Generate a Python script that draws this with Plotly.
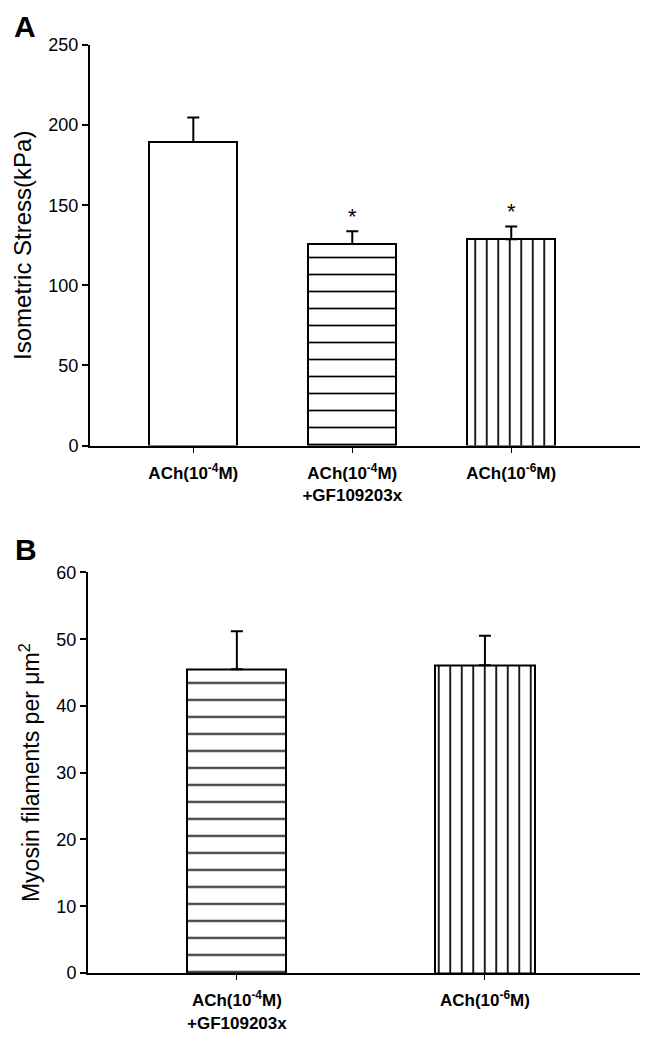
import plotly.graph_objects as go
from plotly.subplots import make_subplots

# Panel A data
cats_a = ["<b>ACh(10<sup>-4</sup>M)</b>", "<b>ACh(10<sup>-4</sup>M)<br>+GF109203x</b>", "<b>ACh(10<sup>-6</sup>M)</b>"]
stress = [189.5, 125.8, 128.7]
stress_err = [15.2, 8.0, 8.0]
stress_sig = ["", "*", "*"]

# Panel B data
cats_b = ["<b>ACh(10<sup>-4</sup>M)<br>+GF109203x</b>", "<b>ACh(10<sup>-6</sup>M)</b>"]
myosin = [45.5, 46.1]
myosin_err = [5.7, 4.4]

patterns_a = ["", "-", "|"]
patterns_b = ["-", "|"]

fig = make_subplots(rows=2, cols=1)

FONT = "Liberation Sans, Arial, sans-serif"

def add_bars(xs, ys, errs, pats, row, width):
    for x, y, e, p in zip(xs, ys, errs, pats):
        pat = dict(shape=p, fgcolor="black", bgcolor="white", fillmode="replace")
        if p == "-":
            pat.update(size=17, solidity=0.1)
        elif p == "|":
            pat.update(size=11.5, solidity=0.15)
        fig.add_trace(go.Bar(
            x=[x], y=[y], width=width,
            marker=dict(color="white", line=dict(color="black", width=2), pattern=pat),
            error_y=dict(type="data", array=[e], arrayminus=[0], symmetric=False,
                         color="black", thickness=2, width=6),
            showlegend=False), row=row, col=1)

add_bars(list(range(len(cats_a))), stress, stress_err, patterns_a, 1, 0.555)
add_bars(list(range(len(cats_b))), myosin, myosin_err, patterns_b, 2, 0.40)

for i, s in enumerate(stress_sig):
    if s:
        fig.add_annotation(x=i, y=stress[i] + stress_err[i], text=s, showarrow=False,
                           yshift=15, font=dict(size=22, color="black", family=FONT),
                           xref="x", yref="y")

W, H = 646, 1037
L, R, T, B = 80, 14, 37, 64
pw, ph = W - L - R, H - T - B

def px_x(p):
    return (p - L) / pw

def px_y(p):
    return (H - B - p) / ph

fig.add_annotation(x=px_x(4), y=px_y(0), xref="paper", yref="paper", text="<b>A</b>",
                   showarrow=False, font=dict(size=30, color="black", family=FONT),
                   xanchor="left", yanchor="top")
fig.add_annotation(x=px_x(5), y=px_y(546), xref="paper", yref="paper", text="<b>B</b>",
                   showarrow=False, font=dict(size=30, color="black", family=FONT),
                   xanchor="left", yanchor="middle")

xaxis_common = dict(showline=True, linecolor="black", linewidth=2, ticks="outside",
                    ticklen=5, tickwidth=1, tickcolor="black", showgrid=False, zeroline=False,
                    ticklabelstandoff=6,
                    tickfont=dict(size=17, family=FONT, color="black"))
yaxis_common = dict(showline=True, linecolor="black", linewidth=2, ticks="outside",
                    ticklen=6, tickwidth=2, tickcolor="black", showgrid=False, zeroline=False,
                    tickfont=dict(size=18, family=FONT, color="black"))

fig.update_layout(
    width=W, height=H, plot_bgcolor="white", paper_bgcolor="white",
    margin=dict(l=L, r=R, t=T, b=B), bargap=0,
    font=dict(family=FONT, color="black"),
    xaxis=dict(domain=[px_x(82), 1], range=[-0.65, 2.81],
               tickvals=list(range(len(cats_a))), ticktext=cats_a, anchor="y", **xaxis_common),
    yaxis=dict(domain=[px_y(441), 1], range=[0, 250], tickvals=[0, 50, 100, 150, 200, 250],
               title=dict(text="Isometric Stress(kPa)", font=dict(size=24, family=FONT, color="black"),
                          standoff=10), anchor="x", **yaxis_common),
    xaxis2=dict(domain=[0, 1], range=[-0.6, 1.625],
                tickvals=list(range(len(cats_b))), ticktext=cats_b, anchor="y2", **xaxis_common),
    yaxis2=dict(domain=[0, px_y(569)], range=[0, 60], tickvals=[0, 10, 20, 30, 40, 50, 60],
                title=dict(text="Myosin filaments per μm<sup>2</sup>",
                           font=dict(size=23, family=FONT, color="black"), standoff=10),
                anchor="x2", **yaxis_common),
)

fig.write_html("out.html")
